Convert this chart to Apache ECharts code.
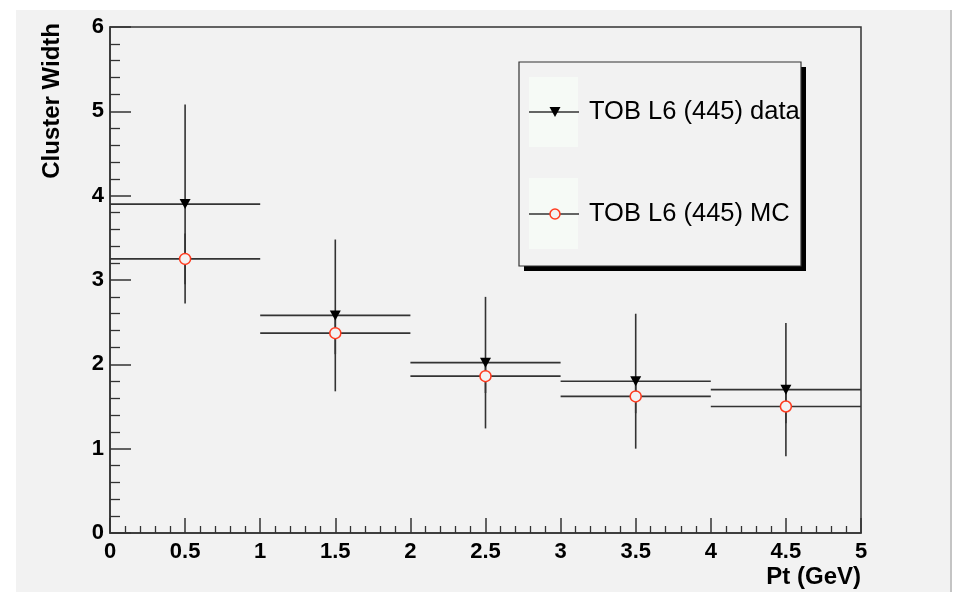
<!DOCTYPE html>
<html>
<head>
<meta charset="utf-8">
<title>Cluster Width vs Pt</title>
<script src="https://cdn.jsdelivr.net/npm/echarts@6/dist/echarts.min.js"></script>
<style>
  html, body { margin: 0; padding: 0; background: #ffffff; }
  #chart { width: 957px; height: 592px; }
</style>
</head>
<body>
<div id="chart"></div>
<script>
// Bin centres and half widths in Pt (GeV)
const ptCenters = [0.5, 1.5, 2.5, 3.5, 4.5];
const ptHalfWidths = [0.5, 0.5, 0.5, 0.5, 0.5];

// TOB L6 (445) data: mean cluster width and its error
const dataWidth = [3.90, 2.58, 2.02, 1.80, 1.70];
const dataErr = [1.18, 0.90, 0.78, 0.80, 0.79];

// TOB L6 (445) MC: mean cluster width and its error
const mcWidth = [3.25, 2.37, 1.86, 1.62, 1.50];
const mcErr = [0.30, 0.25, 0.20, 0.20, 0.20];

const seriesNames = ['TOB L6 (445) data', 'TOB L6 (445) MC'];
const xTitle = 'Pt (GeV)';
const yTitle = 'Cluster Width';

const PAD = '#f2f2f2';
const INK = '#333333';
const MC_RED = '#ff3b1f';
const LABEL_FONT = 'Liberation Sans, Arial, Helvetica, sans-serif';

function rows(ys, errs) {
  return ptCenters.map((x, i) => [x, ys[i], ptHalfWidths[i], errs[i]]);
}

// Horizontal bin-width bar plus vertical error bar for each point
function renderErrorBars(params, api) {
  const x = api.value(0), y = api.value(1), dx = api.value(2), dy = api.value(3);
  const left = api.coord([x - dx, y]);
  const right = api.coord([x + dx, y]);
  const top = api.coord([x, y + dy]);
  const bottom = api.coord([x, y - dy]);
  const style = { stroke: INK, lineWidth: 1.6 };
  return {
    type: 'group',
    children: [
      { type: 'line', shape: { x1: left[0], y1: left[1], x2: right[0], y2: right[1] }, style },
      { type: 'line', shape: { x1: top[0], y1: top[1], x2: bottom[0], y2: bottom[1] }, style }
    ]
  };
}

const chart = echarts.init(document.getElementById('chart'), null, { renderer: 'canvas' });

const legendX = 519, legendY = 62, legendW = 282, legendH = 204;
const rowY = [112, 214];

chart.setOption({
  backgroundColor: '#ffffff',
  animation: false,
  grid: {
    left: 110, top: 27, right: 96, bottom: 59,
    show: true, borderColor: INK, borderWidth: 1.5, backgroundColor: 'transparent'
  },
  xAxis: {
    type: 'value', min: 0, max: 5, interval: 0.5,
    axisLine: { show: true, onZero: false, lineStyle: { color: INK, width: 1.5 } },
    axisTick: { show: true, inside: true, length: 15, lineStyle: { color: INK, width: 1.5 } },
    minorTick: { show: true, splitNumber: 5, length: 7, lineStyle: { color: INK, width: 1.3 } },
    splitLine: { show: false },
    axisLabel: { color: '#000', fontSize: 22, fontWeight: 'bold', fontFamily: LABEL_FONT, margin: 8 }
  },
  yAxis: {
    type: 'value', min: 0, max: 6, interval: 1,
    axisLine: { show: true, onZero: false, lineStyle: { color: INK, width: 1.5 } },
    axisTick: { show: true, inside: true, length: 21, lineStyle: { color: INK, width: 1.5 } },
    minorTick: { show: true, splitNumber: 5, length: 10, lineStyle: { color: INK, width: 1.3 } },
    splitLine: { show: false },
    axisLabel: { color: '#000', fontSize: 22, fontWeight: 'bold', fontFamily: LABEL_FONT, margin: 6 }
  },
  series: [
    {
      name: seriesNames[1] + ' errors', type: 'custom', renderItem: renderErrorBars,
      data: rows(mcWidth, mcErr), z: 2, silent: true
    },
    {
      name: seriesNames[0] + ' errors', type: 'custom', renderItem: renderErrorBars,
      data: rows(dataWidth, dataErr), z: 2, silent: true
    },
    {
      name: seriesNames[1], type: 'scatter', symbol: 'circle', symbolSize: 11, z: 4,
      itemStyle: { color: PAD, borderColor: MC_RED, borderWidth: 1.5, opacity: 1 },
      data: ptCenters.map((x, i) => [x, mcWidth[i]])
    },
    {
      name: seriesNames[0], type: 'scatter', symbol: 'triangle', symbolRotate: 180,
      symbolSize: [11, 10], z: 5,
      itemStyle: { color: '#000', opacity: 1 },
      data: ptCenters.map((x, i) => [x, dataWidth[i]])
    }
  ],
  graphic: [
    // canvas pad
    { type: 'rect', z: -10, shape: { x: 16, y: 10, width: 935, height: 582 }, style: { fill: PAD } },
    { type: 'rect', z: -9, shape: { x: 950, y: 10, width: 2, height: 582 }, style: { fill: '#c4c4c4' } },
    // axis titles
    {
      type: 'text', x: 52, y: 23, rotation: Math.PI / 2, z: 10,
      style: { text: yTitle, align: 'right', verticalAlign: 'middle', fill: '#000',
               font: 'bold 24px ' + LABEL_FONT }
    },
    {
      type: 'text', x: 861, y: 577, z: 10,
      style: { text: xTitle, align: 'right', verticalAlign: 'middle', fill: '#000',
               font: 'bold 24px ' + LABEL_FONT }
    },
    // legend box with drop shadow
    { type: 'rect', z: 20, shape: { x: legendX + 5, y: legendY + 5, width: legendW, height: legendH }, style: { fill: '#000' } },
    { type: 'rect', z: 21, shape: { x: legendX, y: legendY, width: legendW, height: legendH }, style: { fill: PAD, stroke: INK, lineWidth: 1.2 } },
    { type: 'rect', z: 22, shape: { x: 529, y: 77, width: 49, height: 70 }, style: { fill: '#f6faf6' } },
    { type: 'rect', z: 22, shape: { x: 529, y: 178, width: 49, height: 71 }, style: { fill: '#f6faf6' } },
    { type: 'line', z: 23, shape: { x1: 529, y1: rowY[0], x2: 579, y2: rowY[0] }, style: { stroke: INK, lineWidth: 1.6 } },
    { type: 'line', z: 23, shape: { x1: 529, y1: rowY[1], x2: 579, y2: rowY[1] }, style: { stroke: INK, lineWidth: 1.6 } },
    { type: 'polygon', z: 24, shape: { points: [[549.5, 107], [560.5, 107], [555, 117]] }, style: { fill: '#000' } },
    { type: 'circle', z: 24, shape: { cx: 555, cy: rowY[1], r: 5 }, style: { fill: PAD, stroke: MC_RED, lineWidth: 1.5 } },
    {
      type: 'text', z: 24, x: 589, y: rowY[0],
      style: { text: seriesNames[0], verticalAlign: 'middle', fill: '#000', font: '25.5px ' + LABEL_FONT }
    },
    {
      type: 'text', z: 24, x: 589, y: rowY[1],
      style: { text: seriesNames[1], verticalAlign: 'middle', fill: '#000', font: '25.5px ' + LABEL_FONT }
    }
  ]
});
</script>
</body>
</html>
